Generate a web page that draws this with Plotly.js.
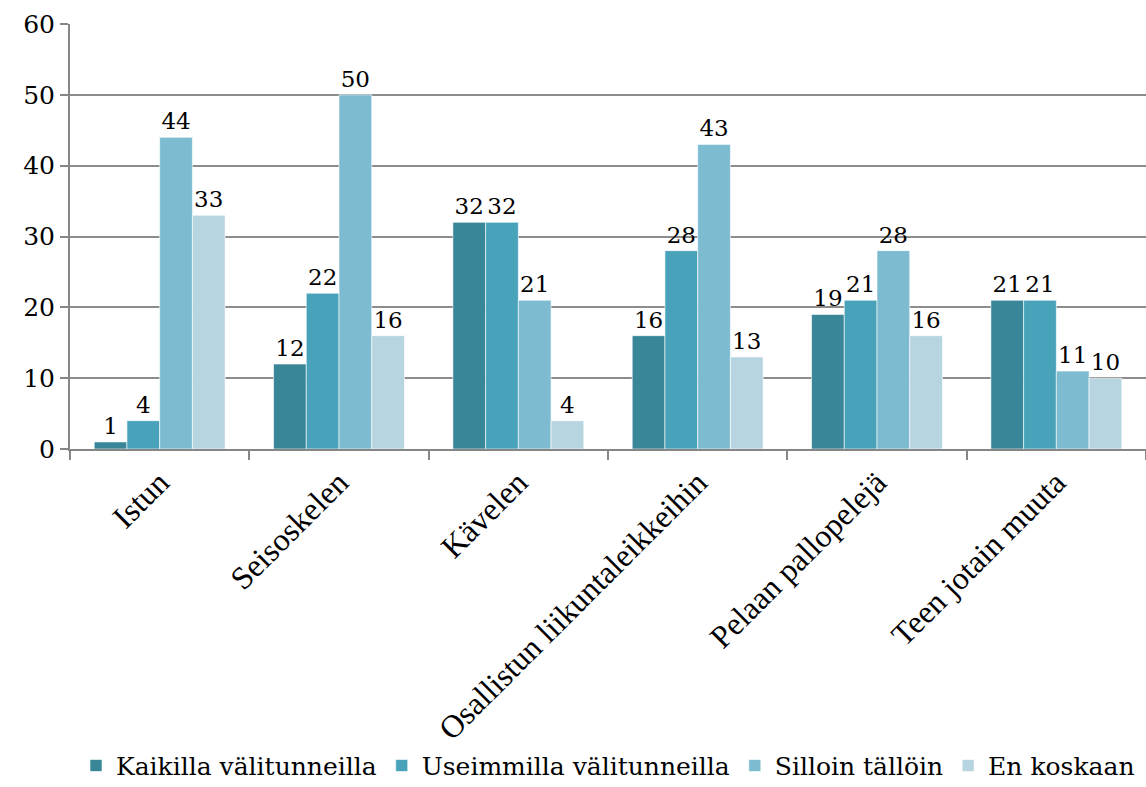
<!DOCTYPE html>
<html>
<head>
<meta charset="utf-8">
<script src="https://cdn.plot.ly/plotly-3.0.1.min.js"></script>
<style>
  html, body { margin: 0; padding: 0; background: #ffffff; }
  #chart { width: 1146px; height: 787px; }
</style>
</head>
<body>
<div id="chart"></div>
<script>
// Activities during recess, with how often each one is done
const categories = ["Istun", "Seisoskelen", "Kävelen", "Osallistun liikuntaleikkeihin", "Pelaan pallopelejä", "Teen jotain muuta"];
const seriesNames = ["Kaikilla välitunneilla", "Useimmilla välitunneilla", "Silloin tällöin", "En koskaan"];
const kaikilla = [1, 12, 32, 16, 19, 21];
const useimmilla = [4, 22, 32, 28, 21, 21];
const silloin = [44, 50, 21, 43, 28, 11];
const enKoskaan = [33, 16, 4, 13, 16, 10];
const yTicks = [0, 10, 20, 30, 40, 50, 60];

const seriesValues = [kaikilla, useimmilla, silloin, enKoskaan];
const colors = ["#3A8699", "#48A2BA", "#7DBBD1", "#B7D5E0"];
const labelSerif = "Liberation Serif";
const textSerif = "DejaVu Serif";

const traces = seriesValues.map((vals, i) => ({
  type: "bar",
  name: seriesNames[i],
  x: categories,
  y: vals,
  text: vals.map(String),
  textposition: "outside",
  constraintext: "none",
  cliponaxis: false,
  textfont: { family: textSerif, size: 23, color: "#000000" },
  marker: { color: colors[i], line: { color: "rgba(255,255,255,0.6)", width: 1 } }
}));

const layout = {
  width: 1146,
  height: 787,
  margin: { l: 70, r: 0, t: 24, b: 338 },
  paper_bgcolor: "#ffffff",
  plot_bgcolor: "#ffffff",
  barmode: "group",
  bargap: 0.27,
  bargroupgap: 0,
  font: { family: textSerif, size: 23, color: "#000000" },
  xaxis: {
    type: "category",
    tickangle: -45,
    tickson: "boundaries",
    ticks: "outside",
    ticklen: 9,
    tickwidth: 2,
    tickcolor: "#868686",
    showline: true,
    linecolor: "#868686",
    linewidth: 2,
    tickfont: { family: labelSerif, size: 32, color: "#000000" },
    showgrid: false,
    automargin: false
  },
  yaxis: {
    range: [0, 60],
    tickvals: yTicks,
    ticktext: yTicks.map(String),
    ticks: "outside",
    ticklen: 8,
    tickwidth: 2,
    tickcolor: "#868686",
    showline: true,
    linecolor: "#868686",
    linewidth: 2,
    showgrid: true,
    gridcolor: "#8C8C8C",
    gridwidth: 2,
    zeroline: false,
    automargin: false,
    tickfont: { family: textSerif, size: 25, color: "#000000" }
  },
  legend: {
    orientation: "h",
    x: 0.5,
    xanchor: "center",
    y: 0.027,
    yref: "container",
    yanchor: "middle",
    font: { family: textSerif, size: 25, color: "#000000" },
    itemwidth: 30,
    tracegroupgap: 0
  },
  showlegend: true
};

Plotly.newPlot("chart", traces, layout, { displayModeBar: false, staticPlot: true });
</script>
</body>
</html>
